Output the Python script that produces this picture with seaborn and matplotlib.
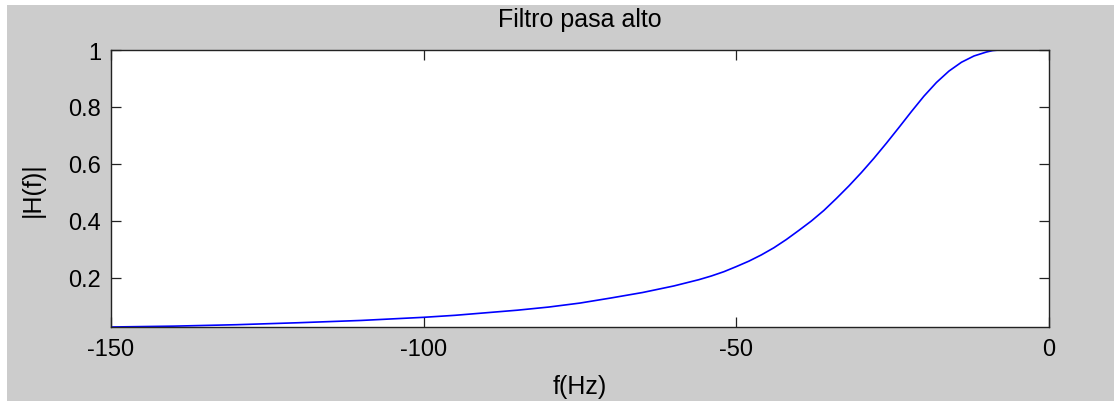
import matplotlib
matplotlib.use("Agg")
import matplotlib.pyplot as plt
from matplotlib.patches import Rectangle
import seaborn as sns
import pandas as pd

# Magnitude response of the high-pass filter, sampled along the frequency axis
freq_hz = [-150, -140, -130, -120, -110, -100, -95, -90, -85, -80,
           -75, -70, -65, -60, -56, -54, -52, -50, -48, -46,
           -44, -42, -40, -38, -36, -34, -32, -30, -28, -26,
           -24, -22, -20, -18, -16, -14, -12, -10, -9, -8, 0]
magnitude = [0.028, 0.031, 0.036, 0.043, 0.051, 0.062, 0.069, 0.078, 0.087, 0.098,
             0.112, 0.130, 0.149, 0.172, 0.194, 0.207, 0.222, 0.240, 0.259, 0.281,
             0.306, 0.335, 0.367, 0.400, 0.437, 0.479, 0.523, 0.570, 0.620, 0.673,
             0.728, 0.784, 0.838, 0.886, 0.926, 0.957, 0.979, 0.993, 0.998, 1.0, 1.0]

x_ticks = [-150, -100, -50, 0]
y_ticks = [0.2, 0.4, 0.6, 0.8, 1.0]
y_tick_labels = ["0.2", "0.4", "0.6", "0.8", "1"]

df = pd.DataFrame({"f": freq_hz, "H": magnitude})

sns.set_theme(style="white")
plt.rcParams["font.family"] = ["Liberation Sans", "DejaVu Sans"]
plt.rcParams["text.color"] = "black"

W, H = 1114, 402
fig = plt.figure(figsize=(W / 100, H / 100), dpi=100, facecolor="white")
# grey window panel with a thin white margin on the top and left
fig.patches.append(Rectangle((7 / W, 0), 1, (H - 6) / H, transform=fig.transFigure,
                             facecolor="#cccccc", edgecolor="none", zorder=-10))

ax = fig.add_axes([111 / W, (H - 328) / H, (1049 - 111) / W, (328 - 51) / H])
ax.set_facecolor("white")

sns.lineplot(data=df, x="f", y="H", ax=ax, color="#0000ff", linewidth=1.2)

ax.set_xlim(min(freq_hz), max(freq_hz))
ax.set_ylim(min(magnitude), max(magnitude))
ax.set_xticks(x_ticks)
ax.set_xticklabels([str(t) for t in x_ticks])
ax.set_yticks(y_ticks)
ax.set_yticklabels(y_tick_labels)

fs = 17
ax.tick_params(axis="both", which="major", direction="in", length=7, width=0.9,
               color="#222222", labelsize=fs, labelcolor="black",
               top=True, right=True, bottom=True, left=True)
ax.tick_params(axis="x", pad=8)
ax.tick_params(axis="y", pad=7)
for sp in ax.spines.values():
    sp.set_visible(True)
    sp.set_color("#222222")
    sp.set_linewidth(1.0)

ax.set_title("Filtro pasa alto", fontsize=18, pad=17, color="black")
ax.set_xlabel("f(Hz)", fontsize=18, labelpad=10, color="black")
ax.set_ylabel("|H(f)|", fontsize=18, labelpad=17, color="black")

fig.savefig("out.png", dpi=100, facecolor=fig.get_facecolor())
